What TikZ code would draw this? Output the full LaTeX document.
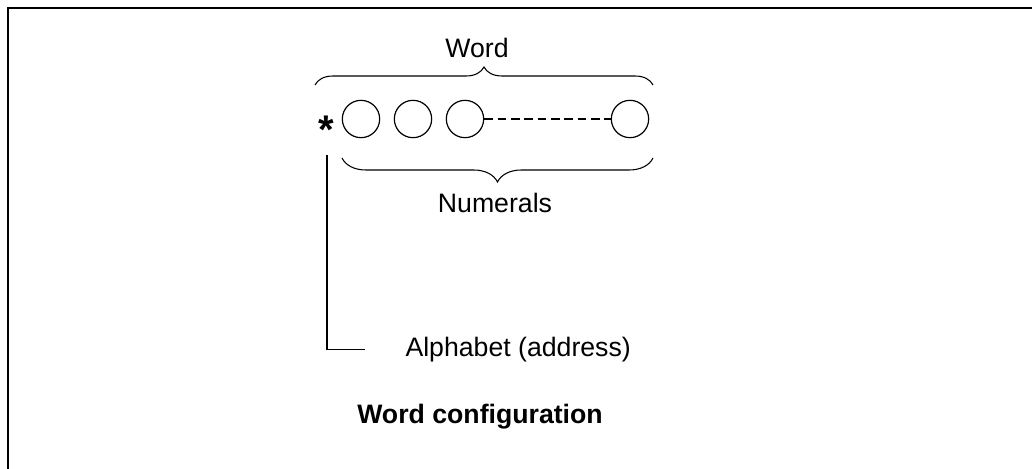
\documentclass[tikz,border=0pt]{standalone}
\usepackage{fontspec}
\setmainfont{Liberation Sans}
\usetikzlibrary{decorations.pathreplacing,calc}

\begin{document}
\begin{tikzpicture}[x=0.75pt, y=0.75pt,
                    line width=0.8pt,
                    font=\fontsize{20}{24}\selectfont]
    \tikzstyle{digit}=[circle,draw,line width=0.9pt,minimum size=28pt,inner sep=0pt]
    \tikzstyle{caption}=[inner sep=0pt,anchor=base]
    \tikzstyle{bracetop}=[decorate,decoration={brace,amplitude=13.5pt}]
    \tikzstyle{bracebot}=[decorate,decoration={brace,amplitude=18pt}]

    \useasboundingbox (0,0) rectangle (1032,468);
    \clip (0,0) rectangle (1032,468);
    \draw[line width=1.6pt] (8,460) rectangle (1060,-20);

    \node[digit] (c1) at (361,349) {};
    \node[digit] (c2) at (413,349) {};
    \node[digit] (c3) at (465,349) {};
    \node[digit] (c4) at (630,349) {};
    \draw[dash pattern=on 6.5pt off 3.5pt] (c3.east) -- (c4.west);

    \node[inner sep=0pt,anchor=north,font=\fontsize{30}{30}\bfseries\selectfont] (star) at (326,353) {*};

    \coordinate (wl) at (315,383);
    \coordinate (wr) at (653,383);
    \draw[bracetop] (wl) -- (wr);
    \node[caption] (word) at (477,410.5) {Word};

    \coordinate (nl) at (342,310);
    \coordinate (nr) at (653,310);
    \draw[bracebot] (nr) -- (nl);
    \node[caption] (numerals) at (495,255) {Numerals};

    \node[inner sep=0pt,anchor=base west] (alpha) at (405,111.5) {Alphabet (address)};
    \coordinate (stem) at (327,313);
    \draw (stem) |- ([xshift=-30]alpha.west);

    \node[caption,font=\fontsize{20}{24}\bfseries\selectfont] (title) at (480,45) {Word configuration};
\end{tikzpicture}
\end{document}
